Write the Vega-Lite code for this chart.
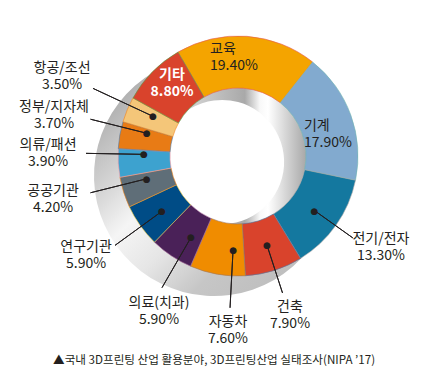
{
  "$schema": "https://vega.github.io/schema/vega-lite/v6.json",
  "width": 418,
  "height": 312,
  "autosize": "none",
  "padding": {"left": 29, "top": 0, "right": 0, "bottom": 69},
  "background": "white",
  "config": {"view": {"stroke": null}, "text": {"font": "Noto Sans CJK KR", "fontSize": 14, "color": "#231f20"}},
  "title": {"text": "▲국내 3D프린팅 산업 활용분야, 3D프린팅산업 실태조사(NIPA ’17)", "orient": "bottom", "anchor": "start", "offset": 9, "dx": 34, "fontSize": 11.6, "fontWeight": "normal", "font": "Noto Sans CJK KR", "color": "#231f20"},
  "data": {"values": [
    {"cat": "교육", "value": 19.4, "order": 1, "name": "교육", "pct": "19.40%"},
    {"cat": "기계", "value": 17.9, "order": 2, "name": "기계", "pct": "17.90%"},
    {"cat": "전기/전자", "value": 13.3, "order": 3, "name": "전기/전자", "pct": "13.30%"},
    {"cat": "건축", "value": 7.9, "order": 4, "name": "건축", "pct": "7.90%"},
    {"cat": "자동차", "value": 7.6, "order": 5, "name": "자동차", "pct": "7.60%"},
    {"cat": "의료(치과)", "value": 5.9, "order": 6, "name": "의료(치과)", "pct": "5.90%"},
    {"cat": "연구기관", "value": 5.9, "order": 7, "name": "연구기관", "pct": "5.90%"},
    {"cat": "공공기관", "value": 4.2, "order": 8, "name": "공공기관", "pct": "4.20%"},
    {"cat": "의류/패션", "value": 3.9, "order": 9, "name": "의류/패션", "pct": "3.90%"},
    {"cat": "정부/지자체", "value": 3.7, "order": 10, "name": "정부/지자체", "pct": "3.70%"},
    {"cat": "항공/조선", "value": 3.5, "order": 11, "name": "항공/조선", "pct": "3.50%"},
    {"cat": "기타", "value": 8.8, "order": 12, "name": "기타", "pct": "8.80%"}
  ]},
  "transform": [
    {"stack": "value", "groupby": [], "sort": [{"field": "order", "order": "ascending"}], "as": ["t0", "t1"]}
  ],
  "layer": [
    {
      "transform": [{"aggregate": [{"op": "sum", "field": "value", "as": "total"}]}],
      "mark": {"type": "arc", "radius": 120, "radius2": 0, "xOffset": -24, "yOffset": 20,
        "fill": {"gradient": "linear", "x1": 0, "y1": 0, "x2": 1, "y2": 1, "stops": [
          {"offset": 0, "color": "#a8a8a8"}, {"offset": 0.15, "color": "#b3b3b3"}, {"offset": 0.31, "color": "#d8d8d8"},
          {"offset": 0.42, "color": "#f5f5f5"}, {"offset": 0.55, "color": "#e6e6e6"}, {"offset": 0.7, "color": "#c6c6c6"}, {"offset": 1, "color": "#b8b8b8"}]}},
      "encoding": {"theta": {"field": "total", "type": "quantitative"}}
    },
    {
      "transform": [{"aggregate": [{"op": "sum", "field": "value", "as": "total"}]}],
      "mark": {"type": "arc", "radius": 68, "radius2": 0,
        "fill": {"gradient": "linear", "x1": 0, "y1": 0, "x2": 1, "y2": 0, "stops": [
          {"offset": 0, "color": "#d8d8d8"}, {"offset": 0.22, "color": "#cccccc"}, {"offset": 0.55, "color": "#a9a9a9"},
          {"offset": 0.66, "color": "#f8f8f8"}, {"offset": 0.72, "color": "#ffffff"}, {"offset": 0.85, "color": "#d6d6d6"}, {"offset": 1, "color": "#a8a8a8"}]}},
      "encoding": {"theta": {"field": "total", "type": "quantitative"}}
    },
    {
      "transform": [{"aggregate": [{"op": "sum", "field": "value", "as": "total"}]}],
      "mark": {"type": "arc", "radius": 62, "radius2": 0, "xOffset": -16, "yOffset": 6, "fill": "#ffffff"},
      "encoding": {"theta": {"field": "total", "type": "quantitative"}}
    },
    {
      "mark": {"type": "arc", "radius": 120, "radius2": 68, "strokeWidth": 0.6},
      "encoding": {
        "theta": {"field": "t0", "type": "quantitative", "scale": {"domain": [0, 102], "range": [-0.5236, 5.7596]}},
        "theta2": {"field": "t1"},
        "color": {"field": "cat", "type": "nominal", "legend": null, "scale": {
          "domain": ["교육", "기계", "전기/전자", "건축", "자동차", "의료(치과)", "연구기관", "공공기관", "의류/패션", "정부/지자체", "항공/조선", "기타"],
          "range": ["#f4a400", "#82aacf", "#14789f", "#d9432c", "#f08c00", "#4a2158", "#004c86", "#5f6e78", "#3da2cf", "#e87b15", "#f4c679", "#d9432c"]}},
        "stroke": {"field": "cat", "type": "nominal", "legend": null}
      }
    },
    {
      "transform": [{"filter": "datum.cat === '항공/조선'"}],
      "layer": [
        {"mark": {"type": "arc", "radius": 160, "radius2": 94, "padAngle": 3.1416, "thetaOffset": 0.0391, "theta2Offset": 0.0391, "filled": false, "stroke": "#231f20", "strokeWidth": 1},
         "encoding": {"theta": {"field": "t0", "type": "quantitative"}, "theta2": {"field": "t1"}}},
        {"mark": {"type": "text", "text": "●", "radius": 94, "thetaOffset": 0.1468, "fontSize": 9, "font": "DejaVu Sans"},
         "encoding": {"theta": {"field": "t0", "type": "quantitative"}}},
        {"mark": {"type": "text", "radius": 193.3, "thetaOffset": 0.137, "dy": -8.5},
         "encoding": {"theta": {"field": "t0", "type": "quantitative"}, "text": {"field": "name"}}},
        {"mark": {"type": "text", "radius": 193.3, "thetaOffset": 0.137, "dy": 8.5},
         "encoding": {"theta": {"field": "t0", "type": "quantitative"}, "text": {"field": "pct"}}}
      ]
    },
    {
      "transform": [{"filter": "datum.cat === '정부/지자체'"}],
      "layer": [
        {"mark": {"type": "arc", "radius": 152, "radius2": 94, "padAngle": 3.1416, "thetaOffset": 0.0688, "theta2Offset": 0.0688, "filled": false, "stroke": "#231f20", "strokeWidth": 1},
         "encoding": {"theta": {"field": "t0", "type": "quantitative"}, "theta2": {"field": "t1"}}},
        {"mark": {"type": "text", "text": "●", "radius": 94, "thetaOffset": 0.1827, "fontSize": 9, "font": "DejaVu Sans"},
         "encoding": {"theta": {"field": "t0", "type": "quantitative"}}},
        {"mark": {"type": "text", "radius": 188.5, "thetaOffset": 0.1576, "dy": -8.5},
         "encoding": {"theta": {"field": "t0", "type": "quantitative"}, "text": {"field": "name"}}},
        {"mark": {"type": "text", "radius": 188.5, "thetaOffset": 0.1576, "dy": 8.5},
         "encoding": {"theta": {"field": "t0", "type": "quantitative"}, "text": {"field": "pct"}}}
      ]
    },
    {
      "transform": [{"filter": "datum.cat === '의류/패션'"}],
      "layer": [
        {"mark": {"type": "arc", "radius": 152, "radius2": 94, "padAngle": 3.1416, "thetaOffset": 0.0759, "theta2Offset": 0.0759, "filled": false, "stroke": "#231f20", "strokeWidth": 1},
         "encoding": {"theta": {"field": "t0", "type": "quantitative"}, "theta2": {"field": "t1"}}},
        {"mark": {"type": "text", "text": "●", "radius": 94, "thetaOffset": 0.1962, "fontSize": 9, "font": "DejaVu Sans"},
         "encoding": {"theta": {"field": "t0", "type": "quantitative"}}},
        {"mark": {"type": "text", "radius": 190, "thetaOffset": 0.1944, "dy": -8.5},
         "encoding": {"theta": {"field": "t0", "type": "quantitative"}, "text": {"field": "name"}}},
        {"mark": {"type": "text", "radius": 190, "thetaOffset": 0.1944, "dy": 8.5},
         "encoding": {"theta": {"field": "t0", "type": "quantitative"}, "text": {"field": "pct"}}}
      ]
    },
    {
      "transform": [{"filter": "datum.cat === '공공기관'"}],
      "layer": [
        {"mark": {"type": "arc", "radius": 152, "radius2": 94, "padAngle": 3.1416, "thetaOffset": 0.0637, "theta2Offset": 0.0637, "filled": false, "stroke": "#231f20", "strokeWidth": 1},
         "encoding": {"theta": {"field": "t0", "type": "quantitative"}, "theta2": {"field": "t1"}}},
        {"mark": {"type": "text", "text": "●", "radius": 94, "thetaOffset": 0.193, "fontSize": 9, "font": "DejaVu Sans"},
         "encoding": {"theta": {"field": "t0", "type": "quantitative"}}},
        {"mark": {"type": "text", "radius": 189.9, "thetaOffset": 0.2087, "dy": -8.5},
         "encoding": {"theta": {"field": "t0", "type": "quantitative"}, "text": {"field": "name"}}},
        {"mark": {"type": "text", "radius": 189.9, "thetaOffset": 0.2087, "dy": 8.5},
         "encoding": {"theta": {"field": "t0", "type": "quantitative"}, "text": {"field": "pct"}}}
      ]
    },
    {
      "transform": [{"filter": "datum.cat === '연구기관'"}],
      "layer": [
        {"mark": {"type": "arc", "radius": 152, "radius2": 94, "padAngle": 3.1416, "thetaOffset": -0.0093, "theta2Offset": -0.0093, "filled": false, "stroke": "#231f20", "strokeWidth": 1},
         "encoding": {"theta": {"field": "t0", "type": "quantitative"}, "theta2": {"field": "t1"}}},
        {"mark": {"type": "text", "text": "●", "radius": 94, "thetaOffset": 0.1724, "fontSize": 9, "font": "DejaVu Sans"},
         "encoding": {"theta": {"field": "t0", "type": "quantitative"}}},
        {"mark": {"type": "text", "radius": 181.4, "thetaOffset": 0.2231, "dy": -8.5},
         "encoding": {"theta": {"field": "t0", "type": "quantitative"}, "text": {"field": "name"}}},
        {"mark": {"type": "text", "radius": 181.4, "thetaOffset": 0.2231, "dy": 8.5},
         "encoding": {"theta": {"field": "t0", "type": "quantitative"}, "text": {"field": "pct"}}}
      ]
    },
    {
      "transform": [{"filter": "datum.cat === '의료(치과)'"}],
      "layer": [
        {"mark": {"type": "arc", "radius": 152, "radius2": 94, "padAngle": 3.1416, "thetaOffset": -0.0648, "theta2Offset": -0.0648, "filled": false, "stroke": "#231f20", "strokeWidth": 1},
         "encoding": {"theta": {"field": "t0", "type": "quantitative"}, "theta2": {"field": "t1"}}},
        {"mark": {"type": "text", "text": "●", "radius": 94, "thetaOffset": 0.1171, "fontSize": 9, "font": "DejaVu Sans"},
         "encoding": {"theta": {"field": "t0", "type": "quantitative"}}},
        {"mark": {"type": "text", "radius": 174, "thetaOffset": 0.0648, "dy": -8.5},
         "encoding": {"theta": {"field": "t0", "type": "quantitative"}, "text": {"field": "name"}}},
        {"mark": {"type": "text", "radius": 174, "thetaOffset": 0.0648, "dy": 8.5},
         "encoding": {"theta": {"field": "t0", "type": "quantitative"}, "text": {"field": "pct"}}}
      ]
    },
    {
      "transform": [{"filter": "datum.cat === '자동차'"}],
      "layer": [
        {"mark": {"type": "arc", "radius": 152, "radius2": 94, "padAngle": 3.1416, "thetaOffset": -0.1201, "theta2Offset": -0.1201, "filled": false, "stroke": "#231f20", "strokeWidth": 1},
         "encoding": {"theta": {"field": "t0", "type": "quantitative"}, "theta2": {"field": "t1"}}},
        {"mark": {"type": "text", "text": "●", "radius": 94, "thetaOffset": 0.114, "fontSize": 9, "font": "DejaVu Sans"},
         "encoding": {"theta": {"field": "t0", "type": "quantitative"}}},
        {"mark": {"type": "text", "radius": 174.3, "thetaOffset": 0.1192, "dy": -8.5},
         "encoding": {"theta": {"field": "t0", "type": "quantitative"}, "text": {"field": "name"}}},
        {"mark": {"type": "text", "radius": 174.3, "thetaOffset": 0.1192, "dy": 8.5},
         "encoding": {"theta": {"field": "t0", "type": "quantitative"}, "text": {"field": "pct"}}}
      ]
    },
    {
      "transform": [{"filter": "datum.cat === '건축'"}],
      "layer": [
        {"mark": {"type": "arc", "radius": 144, "radius2": 94, "padAngle": 3.1416, "thetaOffset": -0.0093, "theta2Offset": -0.0093, "filled": false, "stroke": "#231f20", "strokeWidth": 1},
         "encoding": {"theta": {"field": "t0", "type": "quantitative"}, "theta2": {"field": "t1"}}},
        {"mark": {"type": "text", "text": "●", "radius": 94, "thetaOffset": 0.2341, "fontSize": 9, "font": "DejaVu Sans"},
         "encoding": {"theta": {"field": "t0", "type": "quantitative"}}},
        {"mark": {"type": "text", "radius": 167.3, "thetaOffset": 0.2323, "dy": -8.5},
         "encoding": {"theta": {"field": "t0", "type": "quantitative"}, "text": {"field": "name"}}},
        {"mark": {"type": "text", "radius": 167.3, "thetaOffset": 0.2323, "dy": 8.5},
         "encoding": {"theta": {"field": "t0", "type": "quantitative"}, "text": {"field": "pct"}}}
      ]
    },
    {
      "transform": [{"filter": "datum.cat === '전기/전자'"}],
      "layer": [
        {"mark": {"type": "arc", "radius": 141, "radius2": 94, "padAngle": 3.1416, "thetaOffset": 0.0066, "theta2Offset": 0.0066, "filled": false, "stroke": "#231f20", "strokeWidth": 1},
         "encoding": {"theta": {"field": "t0", "type": "quantitative"}, "theta2": {"field": "t1"}}},
        {"mark": {"type": "text", "text": "●", "radius": 94, "thetaOffset": 0.4163, "fontSize": 9, "font": "DejaVu Sans"},
         "encoding": {"theta": {"field": "t0", "type": "quantitative"}}},
        {"mark": {"type": "text", "radius": 170, "thetaOffset": 0.3683, "dy": -8.5},
         "encoding": {"theta": {"field": "t0", "type": "quantitative"}, "text": {"field": "name"}}},
        {"mark": {"type": "text", "radius": 170, "thetaOffset": 0.3683, "dy": 8.5},
         "encoding": {"theta": {"field": "t0", "type": "quantitative"}, "text": {"field": "pct"}}}
      ]
    },
    {
      "transform": [{"filter": "datum.cat === '교육'"}],
      "layer": [
        {"mark": {"type": "text", "radius": 101.9, "thetaOffset": 0.2461, "dy": -8.5, "align": "left"},
         "encoding": {"theta": {"field": "t0", "type": "quantitative"}, "text": {"field": "name"}}},
        {"mark": {"type": "text", "radius": 101.9, "thetaOffset": 0.2461, "dy": 8.5, "align": "left"},
         "encoding": {"theta": {"field": "t0", "type": "quantitative"}, "text": {"field": "pct"}}}
      ]
    },
    {
      "transform": [{"filter": "datum.cat === '기계'"}],
      "layer": [
        {"mark": {"type": "text", "radius": 69.4, "thetaOffset": 0.5845, "dy": -8.5, "align": "left"},
         "encoding": {"theta": {"field": "t0", "type": "quantitative"}, "text": {"field": "name"}}},
        {"mark": {"type": "text", "radius": 69.4, "thetaOffset": 0.5845, "dy": 8.5, "align": "left"},
         "encoding": {"theta": {"field": "t0", "type": "quantitative"}, "text": {"field": "pct"}}}
      ]
    },
    {
      "transform": [{"filter": "datum.cat === '기타'"}],
      "layer": [
        {"mark": {"type": "text", "radius": 97.7, "thetaOffset": 0.3239, "dy": -8.5, "fontWeight": "bold", "color": "#ffffff"},
         "encoding": {"theta": {"field": "t0", "type": "quantitative"}, "text": {"field": "name"}}},
        {"mark": {"type": "text", "radius": 97.7, "thetaOffset": 0.3239, "dy": 8.5, "fontWeight": "bold", "color": "#ffffff"},
         "encoding": {"theta": {"field": "t0", "type": "quantitative"}, "text": {"field": "pct"}}}
      ]
    }
  ]
}
